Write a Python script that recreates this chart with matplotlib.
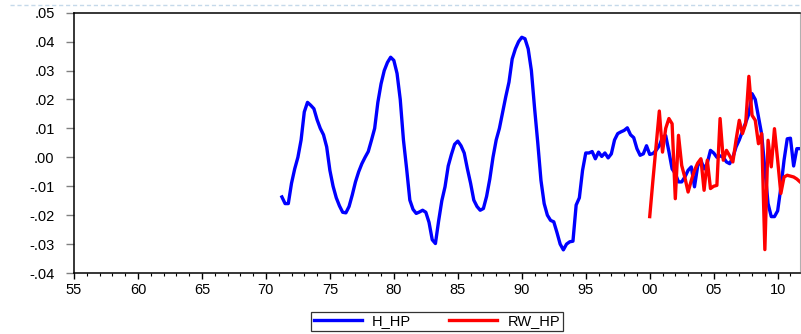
import numpy as np
import matplotlib
matplotlib.use("Agg")
import matplotlib.pyplot as plt
from matplotlib.lines import Line2D
from matplotlib.ticker import MultipleLocator, FixedLocator

plt.rcParams["font.family"] = ["Liberation Sans", "DejaVu Sans"]

# quarterly series, H_HP from 1971Q2, RW_HP from 2000Q1
h_start = 1971.25
h_hp = [
    -0.0137, -0.0160, -0.0160,
    -0.0090, -0.0040, 0.0000, 0.0060,
    0.0157, 0.0190, 0.0180, 0.0168,
    0.0130, 0.0100, 0.0078, 0.0036,
    -0.0045, -0.0100, -0.0140, -0.0168,
    -0.0190, -0.0192, -0.0170, -0.0130,
    -0.0085, -0.0050, -0.0022, 0.0000,
    0.0020, 0.0059, 0.0100, 0.0190,
    0.0254, 0.0300, 0.0328, 0.0346,
    0.0335, 0.0290, 0.0200, 0.0060,
    -0.0040, -0.0148, -0.0180, -0.0194,
    -0.0189, -0.0183, -0.0190, -0.0225,
    -0.0285, -0.0298, -0.0220, -0.0150,
    -0.0102, -0.0030, 0.0010, 0.0045,
    0.0056, 0.0040, 0.0015, -0.0040,
    -0.0090, -0.0148, -0.0170, -0.0183,
    -0.0177, -0.0135, -0.0075, 0.0000,
    0.0060, 0.0100, 0.0155, 0.0210,
    0.0260, 0.0340, 0.0375, 0.0400,
    0.0415, 0.0410, 0.0375, 0.0300,
    0.0170, 0.0050, -0.0080, -0.0160,
    -0.0200, -0.0218, -0.0223, -0.0260,
    -0.0300, -0.0320, -0.0300, -0.0292,
    -0.0290, -0.0165, -0.0140, -0.0045,
    0.0015, 0.0015, 0.0020, -0.0005,
    0.0018, 0.0003, 0.0015, -0.0002,
    0.0012, 0.0060, 0.0082, 0.0088,
    0.0093, 0.0102, 0.0078, 0.0068,
    0.0030, 0.0007, 0.0012, 0.0040,
    0.0010, 0.0013, 0.0024, 0.0040,
    0.0070, 0.0075, 0.0020, -0.0040,
    -0.0056, -0.0085, -0.0085, -0.0068,
    -0.0045, -0.0033, -0.0102, -0.0030,
    -0.0010, -0.0040, -0.0020, 0.0024,
    0.0015, 0.0000, 0.0005, 0.0000,
    -0.0016, -0.0022, 0.0000, 0.0036,
    0.0060, 0.0090, 0.0120, 0.0150,
    0.0220, 0.0200, 0.0140, 0.0080,
    -0.0040, -0.0160, -0.0205, -0.0205,
    -0.0185, -0.0105, -0.0010, 0.0064,
    0.0066, -0.0030, 0.0030, 0.0030,
]

rw_start = 2000.0
rw_hp = [
    -0.0205, -0.0080, 0.0040, 0.0160,
    0.0018, 0.0100, 0.0134, 0.0116,
    -0.0143, 0.0076, -0.0028, -0.0070,
    -0.0120, -0.0080, -0.0045, -0.0020,
    -0.0005, -0.0114, -0.0010, -0.0108,
    -0.0100, -0.0097, 0.0134, -0.0010,
    0.0024, 0.0005, -0.0016, 0.0060,
    0.0128, 0.0082, 0.0116, 0.0280,
    0.0145, 0.0128, 0.0047, 0.0082,
    -0.0319, 0.0059, -0.0033, 0.0099,
    -0.0010, -0.0125, -0.0068, -0.0062,
    -0.0065, -0.0068, -0.0075, -0.0085,
]

y_ticks = [-0.04, -0.03, -0.02, -0.01, 0.00, 0.01, 0.02, 0.03, 0.04, 0.05]
y_labels = ["-.04", "-.03", "-.02", "-.01", ".00", ".01", ".02", ".03", ".04", ".05"]
x_ticks = [1955, 1960, 1965, 1970, 1975, 1980, 1985, 1990, 1995, 2000, 2005, 2010]
x_labels = ["55", "60", "65", "70", "75", "80", "85", "90", "95", "00", "05", "10"]

h_dates = h_start + 0.25 * np.arange(len(h_hp))
rw_dates = rw_start + 0.25 * np.arange(len(rw_hp))

fig = plt.figure(figsize=(8.01, 3.34), dpi=100)
ax = fig.add_axes([0.0924, 0.1826, 0.9064, 0.7794])

ax.plot(h_dates, h_hp, color="#0000ff", lw=2.4, label="H_HP", solid_joinstyle="round")
ax.plot(rw_dates, rw_hp, color="#ff0000", lw=2.4, label="RW_HP", solid_joinstyle="round")

ax.set_xlim(1955, 2011.75)
ax.set_ylim(-0.04, 0.05)

ax.yaxis.set_major_locator(FixedLocator(y_ticks))
ax.set_yticklabels(y_labels)
ax.xaxis.set_major_locator(FixedLocator(x_ticks))
ax.xaxis.set_minor_locator(MultipleLocator(1))
ax.set_xticklabels(x_labels)

ax.tick_params(axis="y", direction="out", length=6, width=1, color="#808080",
               labelsize=10.5, pad=8)
ax.tick_params(axis="x", which="major", direction="out", length=4, width=1,
               color="black", labelsize=10.5, pad=3)
ax.tick_params(axis="x", which="minor", direction="out", length=2.5, width=0.8,
               color="black")

for side in ["left", "bottom", "top"]:
    ax.spines[side].set_color("black")
    ax.spines[side].set_linewidth(1.1)
ax.spines["right"].set_color("#b0b0b0")
ax.spines["right"].set_linewidth(0.8)

leg = fig.legend(loc="center", bbox_to_anchor=(0.5455, 0.0375), ncol=2,
                 frameon=True, fancybox=False, edgecolor="black",
                 fontsize=10.5, handlelength=3.3, columnspacing=2.6,
                 borderpad=0.2, handletextpad=0.7, borderaxespad=0)
leg.get_frame().set_linewidth(0.9)

# faint dashed separator along the top edge
fig.add_artist(Line2D([0.012, 1.0], [0.985, 0.985], transform=fig.transFigure,
                      color="#c5d9ea", lw=1.0, ls=(0, (3, 2))))

fig.savefig("out.png", dpi=100)
